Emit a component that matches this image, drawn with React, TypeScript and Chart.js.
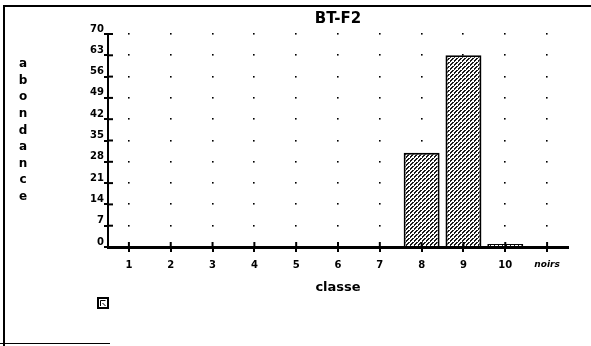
import React, { useEffect, useRef } from 'react';
import { Chart, registerables } from 'chart.js';

Chart.register(...registerables);

const classes = ['1', '2', '3', '4', '5', '6', '7', '8', '9', '10', 'noirs'];
const abondance = [0, 0, 0, 0, 0, 0, 0, 31, 63, 1, 0];
const yMin = 0;
const yMax = 70;
const yStep = 7;
const chartTitle = 'BT-F2';
const xTitle = 'classe';
const yTitle = 'abondance';

const FAMILY = '"DejaVu Sans", sans-serif';

export default function App() {
  const ref = useRef<HTMLCanvasElement>(null);

  useEffect(() => {
    const canvas = ref.current;
    if (!canvas) return;

    const tile = document.createElement('canvas');
    tile.width = 4;
    tile.height = 4;
    const t = tile.getContext('2d')!;
    t.fillStyle = '#fff';
    t.fillRect(0, 0, 4, 4);
    t.fillStyle = '#1a1a1a';
    [[3, 0], [2, 0], [2, 1], [1, 2], [0, 2], [0, 3], [3, 3]].forEach(([px, py]) =>
      t.fillRect(px, py, 1, 1)
    );
    const ctx0 = canvas.getContext('2d')!;
    const pattern = ctx0.createPattern(tile, 'repeat');

    const decor = {
      id: 'decor',
      beforeDatasetsDraw(chart: any) {
        const { ctx, scales } = chart;
        const x = scales.x;
        const y = scales.y;
        ctx.save();
        ctx.fillStyle = '#000';
        x.ticks.forEach((_: any, i: number) => {
          const px = x.getPixelForTick(i);
          y.ticks.forEach((tk: any, j: number) => {
            if (tk.value <= 0) return;
            const py = y.getPixelForTick(j);
            ctx.fillRect(Math.round(px) - 1, Math.round(py) - 1, 1.6, 1.6);
          });
        });
        ctx.restore();
      },
      afterDraw(chart: any) {
        const { ctx, chartArea, scales } = chart;
        const x = scales.x;
        const y = scales.y;
        ctx.save();
        ctx.strokeStyle = '#000';
        ctx.lineWidth = 2;
        // inner halves of tick marks
        y.ticks.forEach((_: any, j: number) => {
          const py = y.getPixelForTick(j);
          ctx.beginPath();
          ctx.moveTo(chartArea.left, py);
          ctx.lineTo(chartArea.left + 5, py);
          ctx.stroke();
        });
        x.ticks.forEach((_: any, i: number) => {
          const px = x.getPixelForTick(i);
          ctx.beginPath();
          ctx.moveTo(px, chartArea.bottom);
          ctx.lineTo(px, chartArea.bottom - 5);
          ctx.stroke();
        });
        // frame
        ctx.beginPath();
        ctx.moveTo(4, 346);
        ctx.lineTo(4, 6);
        ctx.lineTo(591, 6);
        ctx.stroke();
        ctx.lineWidth = 1;
        ctx.beginPath();
        ctx.moveTo(0, 343.5);
        ctx.lineTo(110, 343.5);
        ctx.stroke();
        // vertical y title letters
        ctx.fillStyle = '#000';
        ctx.font = 'bold 12px ' + FAMILY;
        ctx.textAlign = 'center';
        ctx.textBaseline = 'middle';
        yTitle.split('').forEach((ch, i) => {
          ctx.fillText(ch, 23, 64 + i * 16.6);
        });
        // small box icon
        ctx.lineWidth = 2;
        ctx.strokeRect(98, 298, 10, 10);
        ctx.lineWidth = 1;
        ctx.beginPath();
        ctx.moveTo(100.5, 306);
        ctx.lineTo(100.5, 300.5);
        ctx.lineTo(105.5, 300.5);
        ctx.moveTo(102.5, 303);
        ctx.lineTo(105.5, 306);
        ctx.stroke();
        ctx.restore();
      },
    };

    const chart = new Chart(canvas, {
      type: 'bar',
      data: {
        labels: classes,
        datasets: [
          {
            data: abondance,
            backgroundColor: pattern as any,
            borderColor: '#000',
            borderWidth: 2,
            barPercentage: 0.86,
            categoryPercentage: 1,
          },
        ],
      },
      options: {
        responsive: false,
        animation: false,
        layout: { padding: { left: 68, right: 23, top: 10, bottom: 51 } },
        plugins: {
          legend: { display: false },
          tooltip: { enabled: false },
          title: {
            display: true,
            text: chartTitle,
            fullSize: false,
            color: '#000',
            font: { family: FAMILY, size: 15, weight: 'bold' },
            padding: { top: 0, bottom: 6 },
          },
        },
        scales: {
          x: {
            grid: {
              offset: false,
              drawOnChartArea: false,
              color: '#000',
              lineWidth: 2,
              tickLength: 5,
            },
            border: { color: '#000', width: 3 },
            ticks: {
              color: '#000',
              padding: 7,
              autoSkip: false,
              maxRotation: 0,
              font: (c: any) =>
                c.index === classes.length - 1
                  ? { family: FAMILY, size: 9, weight: 'bold', style: 'italic' }
                  : { family: FAMILY, size: 10, weight: 'bold' },
            },
            title: {
              display: true,
              text: xTitle,
              color: '#000',
              font: { family: FAMILY, size: 13, weight: 'bold' },
              padding: 0,
            },
            afterFit: (s: any) => {
              s.height = 48;
            },
          },
          y: {
            min: yMin,
            max: yMax,
            ticks: {
              stepSize: yStep,
              color: '#000',
              padding: 0,
              labelOffset: -5,
              font: { family: FAMILY, size: 10, weight: 'bold' },
            },
            grid: {
              drawOnChartArea: false,
              color: '#000',
              lineWidth: 2,
              tickLength: 4,
            },
            border: { color: '#000', width: 2 },
            afterFit: (s: any) => {
              s.width = 40;
            },
          },
        },
      } as any,
      plugins: [decor],
    });

    return () => chart.destroy();
  }, []);

  return (
    <div style={{ position: 'absolute', left: 0, top: 0, width: 591, height: 346, background: '#fff' }}>
      <canvas ref={ref} width={591} height={346} style={{ display: 'block' }} />
    </div>
  );
}
